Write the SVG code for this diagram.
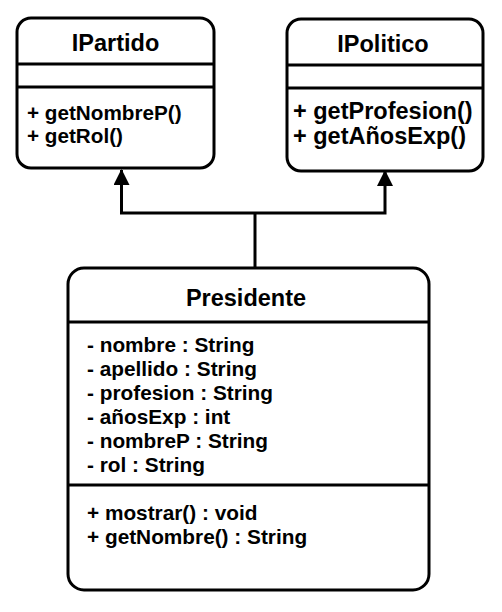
<svg xmlns="http://www.w3.org/2000/svg" width="502" height="612" viewBox="0 0 502 612">
<style>
.box{fill:#fff;stroke:#000;stroke-width:3}
.div{stroke:#000;stroke-width:3}
.t{font-family:"Liberation Sans",Arial,sans-serif;font-weight:bold;fill:#000}
.title{font-size:23.5px;text-anchor:middle}
.line{fill:none;stroke:#000;stroke-width:3}
</style>
<defs>
<marker id="arr" viewBox="0 0 16 16" refX="15" refY="8" markerWidth="16" markerHeight="16" markerUnits="userSpaceOnUse" orient="auto">
<path d="M0,0 L16,8 L0,16 Z" fill="#000"/>
</marker>
</defs>
<g id="connectors">
<path class="line" d="M255,268 V213"/>
<path class="line" d="M255,213 H121.5 V170" marker-end="url(#arr)"/>
<path class="line" d="M255,213 H385 V171" marker-end="url(#arr)"/>
</g>
<g id="IPartido">
<rect class="box" x="17" y="18" width="197" height="150" rx="14"/>
<line class="div" x1="17" y1="64" x2="214" y2="64"/>
<line class="div" x1="17" y1="87" x2="214" y2="87"/>
<text class="t title" x="115.5" y="51">IPartido</text>
<text class="t" x="27" y="120" font-size="20.7">+ getNombreP()</text>
<text class="t" x="27" y="143" font-size="20.7">+ getRol()</text>
</g>
<g id="IPolitico">
<rect class="box" x="287" y="19" width="196" height="152" rx="14"/>
<line class="div" x1="287" y1="65" x2="483" y2="65"/>
<line class="div" x1="287" y1="88" x2="483" y2="88"/>
<text class="t title" x="383" y="52">IPolitico</text>
<text class="t" x="293" y="119" font-size="23.5">+ getProfesion()</text>
<text class="t" x="293" y="144" font-size="23.5">+ getAñosExp()</text>
</g>
<g id="Presidente">
<rect class="box" x="68" y="268" width="361" height="322" rx="16"/>
<line class="div" x1="68" y1="322" x2="429" y2="322"/>
<line class="div" x1="68" y1="485" x2="429" y2="485"/>
<text class="t title" x="246" y="306">Presidente</text>
<g class="t" font-size="20.8">
<text x="87" y="352">- nombre : String</text>
<text x="87" y="376">- apellido : String</text>
<text x="87" y="400">- profesion : String</text>
<text x="87" y="424">- añosExp : int</text>
<text x="87" y="448">- nombreP : String</text>
<text x="87" y="472">- rol : String</text>
<text x="87" y="520">+ mostrar() : void</text>
<text x="87" y="544">+ getNombre() : String</text>
</g>
</g>
</svg>
